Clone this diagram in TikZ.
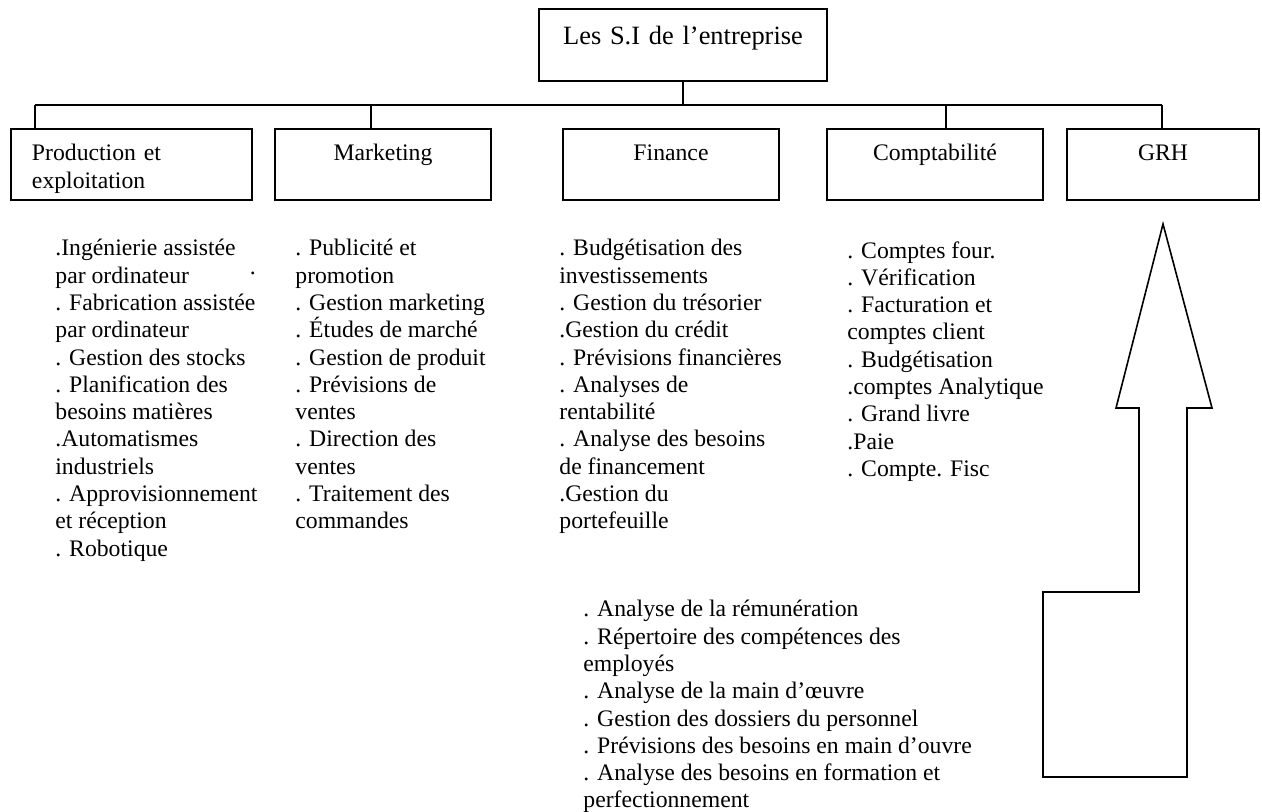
\documentclass[tikz,border=0pt]{standalone}
\usepackage{fontspec}
\setmainfont{Liberation Serif}
\usepackage{tikz}
\usetikzlibrary{positioning}
\tikzset{
    dept/.style={
           draw=black, line width=0.8pt,
           rectangle,
           inner xsep=10.5pt, inner ysep=0pt,
           text height=16pt, text depth=19.5pt,
           text width=#1,
           align=center,
           font=\fontsize{11.85}{13.65}\selectfont
           },
    root/.style={
           draw=black, line width=0.8pt,
           rectangle,
           inner sep=0pt,
           text height=18pt, text depth=18pt,
           text width=144pt,
           align=center,
           font=\fontsize{13.2}{15.2}\selectfont
           },
    items/.style={
           anchor=north west,
           inner sep=0pt,
           align=left,
           font=\fontsize{11.85}{13.65}\selectfont
           },
    link/.style={
           draw=black, line width=0.8pt
           },
    bigarrow/.style={
           draw=black, line width=0.8pt, line join=miter
           }
}

\begin{document}
\begin{tikzpicture}[x=0.5pt, y=-0.5pt]
   \useasboundingbox (0,0) rectangle (1262,812);

   % les boites
   \node[root] (si) at (683,45) {Les S.I de l’entreprise};
   \node[dept=99.5pt, align=left] (prod) at (131.5,164.5) {Production et\\exploitation};
   \node[dept=87pt] (mkt) at (383,164.5) {Marketing};
   \node[dept=87pt] (fin) at (671,164.5) {Finance};
   \node[dept=87pt] (cpt) at (935,164.5) {Comptabilité};
   \node[dept=75pt] (grh) at (1163,164.5) {GRH};

   % le bus
   \coordinate (jP) at (35,105);
   \coordinate (jM) at (371,105);
   \coordinate (jC) at (946,105);
   \coordinate (jG) at (1162,105);
   \draw[link] (si.south) -- (si.south |- jP);
   \draw[link] (jP) -- (jG);
   \draw[link] (jP) -- (jP |- prod.north);
   \draw[link] (jM) -- (jM |- mkt.north);
   \draw[link] (jC) -- (jC |- cpt.north);
   \draw[link] (jG) -- (jG |- grh.north);

   % les listes
   \node[items] (lprod) at (55,239) {.Ingénierie assistée\\
      par ordinateur\rlap{\hspace{30.5pt}\raisebox{4.5pt}{.}}\\
      . Fabrication assistée\\par ordinateur\\. Gestion des stocks\\
      . Planification des\\besoins matières\\.Automatismes\\industriels\\
      . Approvisionnement\\et réception\\. Robotique};
   \node[items] (lmkt) at (295,239) {. Publicité et\\promotion\\
      . Gestion marketing\\. Études de marché\\. Gestion de produit\\
      . Prévisions de\\ventes\\. Direction des\\ventes\\
      . Traitement des\\commandes};
   \node[items] (lfin) at (559,239) {. Budgétisation des\\investissements\\
      . Gestion du trésorier\\.Gestion du crédit\\. Prévisions financières\\
      . Analyses de\\rentabilité\\. Analyse des besoins\\de financement\\
      .Gestion du\\portefeuille};
   \node[items] (lcpt) at (847,241) {. Comptes four.\\. Vérification\\
      . Facturation et\\comptes client\\. Budgétisation\\.comptes Analytique\\
      . Grand livre\\.Paie\\. Compte. Fisc};
   \node[items] (lgrh) at (583,600) {. Analyse de la rémunération\\
      . Répertoire des compétences des\\employés\\
      . Analyse de la main d’œuvre\\. Gestion des dossiers du personnel\\
      . Prévisions des besoins en main d’ouvre\\
      . Analyse des besoins en formation et\\perfectionnement};

   % la fleche
   \draw[bigarrow] (1163,224) -- (1212,408) -- (1187,408) -- (1187,777)
      -- (1043,777) -- (1043,592) -- (1139,592) -- (1139,408)
      -- (1116,408) -- cycle;
\end{tikzpicture}
\end{document}
